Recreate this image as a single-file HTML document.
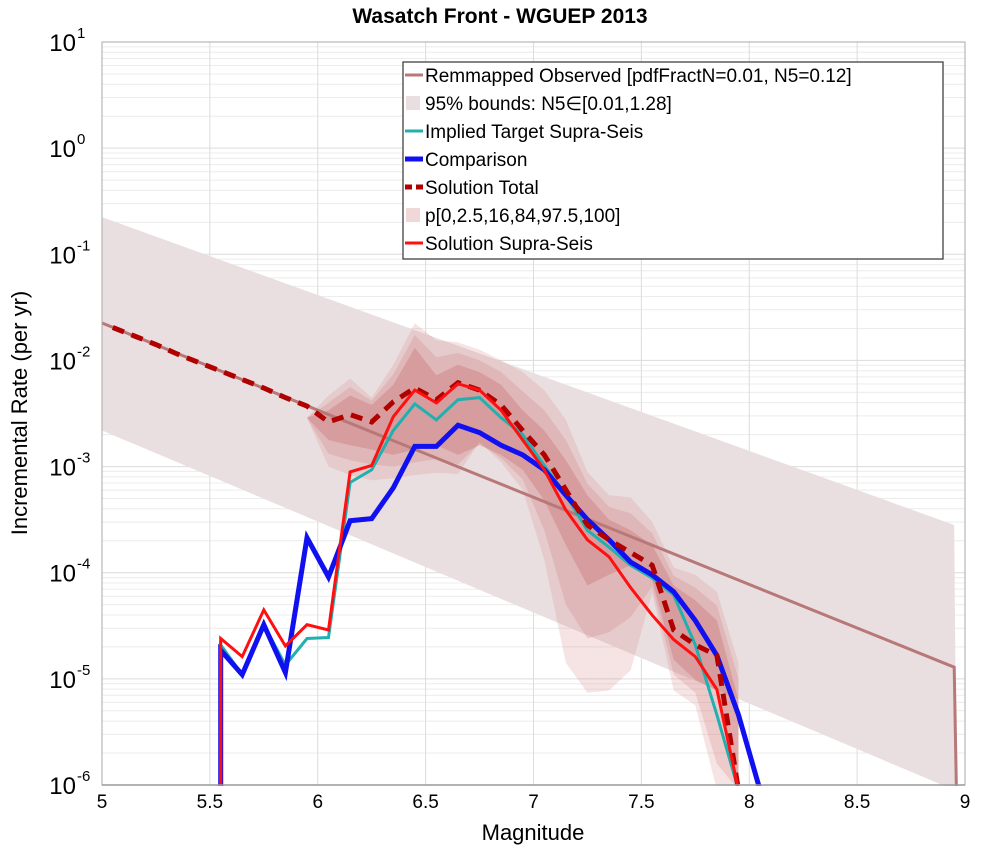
<!DOCTYPE html>
<html><head><meta charset="utf-8"><style>
body{margin:0;background:#fff;}
svg{font-family:"Liberation Sans",sans-serif;}
</style></head><body>
<svg id="chart" width="1000" height="850" xmlns="http://www.w3.org/2000/svg">
<text x="500" y="23" text-anchor="middle" font-size="21" font-weight="bold">Wasatch Front - WGUEP 2013</text>
<text x="533" y="840" text-anchor="middle" font-size="22">Magnitude</text>
<text transform="translate(27,413) rotate(-90)" text-anchor="middle" font-size="22">Incremental Rate (per yr)</text>
<g id="grid"></g><g id="bands"></g><g id="series"></g><g id="axes"></g><g id="legend"></g>
</svg>
<script>
const binMags=[5.55,5.65,5.75,5.85,5.95,6.05,6.15,6.25,6.35,6.45,6.55,6.65,6.75,6.85,6.95,7.05,7.15,7.25,7.35,7.45,7.55,7.65,7.75,7.85,7.95,8.05];
const supraSeis=[-4.62,-4.79,-4.35,-4.69,-4.49,-4.54,-3.05,-2.99,-2.53,-2.28,-2.40,-2.22,-2.28,-2.47,-2.75,-3.03,-3.41,-3.69,-3.85,-4.14,-4.40,-4.63,-4.79,-5.10,-7,-7];
const targetSupra=[-4.68,-4.96,-4.49,-4.87,-4.62,-4.61,-3.15,-3.03,-2.66,-2.41,-2.56,-2.37,-2.35,-2.54,-2.70,-2.99,-3.27,-3.60,-3.76,-3.93,-4.05,-4.21,-4.68,-5.34,-7,-7];
const comparison=[-4.73,-4.96,-4.49,-4.94,-3.67,-4.04,-3.51,-3.49,-3.20,-2.81,-2.81,-2.61,-2.68,-2.80,-2.89,-3.03,-3.27,-3.50,-3.69,-3.90,-4.02,-4.18,-4.45,-4.78,-5.34,-6.2];
const totalMags=[5.05,5.15,5.25,5.35,5.45,5.55,5.65,5.75,5.85,5.95,6.05,6.15,6.25,6.35,6.45,6.55,6.65,6.75,6.85,6.95,7.05,7.15,7.25,7.35,7.45,7.55,7.65,7.75,7.85,7.95];
const solutionTotal=[-1.69,-1.77,-1.85,-1.94,-2.02,-2.10,-2.18,-2.26,-2.35,-2.43,-2.58,-2.51,-2.58,-2.39,-2.26,-2.37,-2.21,-2.28,-2.42,-2.66,-2.89,-3.22,-3.55,-3.69,-3.81,-3.93,-4.54,-4.68,-4.78,-7];
const obsMags=[5.0,8.95,8.96];
const observed=[-1.647,-4.89,-7];
const boundMags=[5.0,8.95];
const boundUpper=[-0.65,-3.55];
const boundLower=[-2.66,-6.16];
const pMags=[5.95,6.05,6.15,6.25,6.35,6.45,6.55,6.65,6.75,6.85,6.95,7.05,7.15,7.25,7.35,7.45,7.55,7.65,7.75,7.85,7.95];
const p0=[-2.54,-3.00,-3.08,-3.13,-3.11,-3.08,-3.06,-3.07,-2.77,-2.96,-3.22,-3.88,-4.85,-5.13,-5.11,-4.92,-4.19,-5.11,-5.25,-6.5,-6.5];
const p100=[-2.54,-2.33,-2.17,-2.35,-2.04,-1.65,-1.81,-1.83,-1.90,-2.00,-2.11,-2.28,-2.56,-3.05,-3.27,-3.29,-3.52,-3.95,-4.02,-4.18,-4.85];
const p2_5=[-2.54,-2.88,-2.94,-2.98,-3.00,-2.96,-2.93,-2.98,-2.78,-2.92,-3.12,-3.60,-4.30,-4.62,-4.56,-4.42,-4.13,-4.96,-5.13,-5.8,-6.5];
const p97_5=[-2.54,-2.40,-2.25,-2.38,-2.13,-1.76,-1.97,-1.93,-2.00,-2.11,-2.29,-2.47,-2.75,-3.16,-3.38,-3.44,-3.63,-4.03,-4.14,-4.31,-5.0];
const p16=[-2.54,-2.75,-2.80,-2.84,-2.89,-2.84,-2.80,-2.89,-2.80,-2.89,-3.03,-3.32,-3.74,-4.12,-4.02,-3.93,-4.07,-4.82,-5.01,-5.11,-6.5];
const p84=[-2.54,-2.47,-2.33,-2.42,-2.23,-1.88,-2.14,-2.04,-2.11,-2.23,-2.47,-2.66,-2.94,-3.27,-3.50,-3.60,-3.74,-4.12,-4.26,-4.45,-5.20];
const xTicks=[5,5.5,6,6.5,7,7.5,8,8.5,9];
const xTickLabels=["5","5.5","6","6.5","7","7.5","8","8.5","9"];
const yExps=[1,0,-1,-2,-3,-4,-5,-6];

const X0=102,X1=965,Y0=42,Y1=785;
const xS=m=>X0+(m-5)/4*(X1-X0);
const yS=l=>Y0+(1-l)/7*(Y1-Y0);
const NS="http://www.w3.org/2000/svg";
function mk(tag,attrs,parent){const e=document.createElementNS(NS,tag);for(const k in attrs)e.setAttribute(k,attrs[k]);parent.appendChild(e);return e;}
const cy=l=>Math.min(Y1+5,yS(l));
function pts(ms,vs){return ms.map((m,i)=>xS(m).toFixed(1)+","+cy(vs[i]).toFixed(1)).join(" ");}

const grid=document.getElementById('grid');
for(let d=1;d>-6;d--){for(let k=2;k<10;k++){const y=yS(d-1+Math.log10(k));
const g=mk('line',{x1:X0,x2:X1,y1:y,y2:y,stroke:'#ececec','stroke-width':1},grid);
}}
yExps.forEach(e=>{const y=yS(e);const g=mk('line',{x1:X0,x2:X1,y1:y,y2:y,stroke:'#dcdcdc','stroke-width':1},grid);
});
xTicks.forEach(m=>{const x=xS(m);const g=mk('line',{x1:x,x2:x,y1:Y0,y2:Y1,stroke:'#dcdcdc','stroke-width':1},grid);
});

const bands=document.getElementById('bands');
function band(ms,lo,hi,fill,name){const p=pts(ms,hi)+" "+pts(ms.slice().reverse(),lo.slice().reverse());
const e=mk('polygon',{points:p,fill:fill},bands);}
{const ms=[boundMags[0],boundMags[1],boundMags[1]];
const p=pts(boundMags,boundUpper)+" "+xS(8.96)+","+Y1+" "+pts([boundMags[1],boundMags[0]],[boundLower[1],boundLower[0]]);
const e=mk('polygon',{points:p,fill:'#eadfe0'},bands);

}
band(pMags,p0,p100,'rgba(215,130,130,0.22)','p0-100-band');
band(pMags,p2_5,p97_5,'rgba(205,115,115,0.22)','p2.5-97.5-band');
band(pMags,p16,p84,'rgba(200,100,100,0.3)','p16-84-band');

const ser=document.getElementById('series');
function line(ms,vs,color,w,name,dash,startBottom){let p=pts(ms,vs);if(startBottom)p=xS(ms[0]).toFixed(1)+","+(Y1+5)+" "+p;
const a={points:p,fill:'none',stroke:color,'stroke-width':w,'stroke-linejoin':'miter'};if(dash)a['stroke-dasharray']=dash;
const e=mk('polyline',a,ser);}
line(obsMags,observed,'#b87878',3,'remapped-observed-line');
line(binMags,targetSupra,'#20b0b0',3,'implied-target-line',null,true);
line(binMags,comparison,'#1010f0',5,'comparison-line',null,true);
line(totalMags,solutionTotal,'#b00000',5,'solution-total-line','12,8');
line(binMags,supraSeis,'#ff1010',3,'solution-supra-seis-line',null,true);

const ax=document.getElementById('axes');
{const r=mk('rect',{x:X0,y:Y0,width:X1-X0,height:Y1-Y0,fill:'none',stroke:'#aaa','stroke-width':1},ax);

const c=mk('rect',{x:0,y:Y1+1,width:1000,height:12,fill:'#fff'},ax);

const b=mk('line',{x1:X0,x2:X1,y1:Y1,y2:Y1,stroke:'#999','stroke-width':1.5},ax);
}
xTicks.forEach((m,i)=>{const t=mk('text',{x:xS(m),y:808,'text-anchor':'middle','font-size':19},ax);t.textContent=xTickLabels[i];
});
yExps.forEach(e=>{const t=mk('text',{x:76,y:yS(e)+9,'text-anchor':'end','font-size':24},ax);t.textContent='10';

const s=mk('text',{x:77,y:yS(e)-4,'text-anchor':'start','font-size':15},ax);s.textContent=String(e).replace('-','-');
});

const lg=document.getElementById('legend');
{const r=mk('rect',{x:403,y:62,width:540,height:197,fill:'#fff',stroke:'#333','stroke-width':1.2},lg);
}
const legendLabels=["Remmapped Observed [pdfFractN=0.01, N5=0.12]","95% bounds: N5∈[0.01,1.28]","Implied Target Supra-Seis","Comparison","Solution Total","p[0,2.5,16,84,97.5,100]","Solution Supra-Seis"];
const legendStyles=[['line','#b87878',3],['box','#eadfe0'],['line','#20b0b0',3],['line','#1010f0',5],['dash','#b00000',5],['box','#f0d8d8'],['line','#ff1010',3]];
legendLabels.forEach((lab,i)=>{const y=75+i*28;const st=legendStyles[i];
const g=mk('g',{},lg);
if(st[0]==='box'){mk('rect',{x:406,y:y-7,width:14,height:14,fill:st[1]},g);}
else{const a={x1:405,x2:423,y1:y,y2:y,stroke:st[1],'stroke-width':st[2]};if(st[0]==='dash')a['stroke-dasharray']='7,4';mk('line',a,g);}
const t=mk('text',{x:425,y:y+7,'font-size':19},g);t.textContent=lab;});
</script>
</body></html>
